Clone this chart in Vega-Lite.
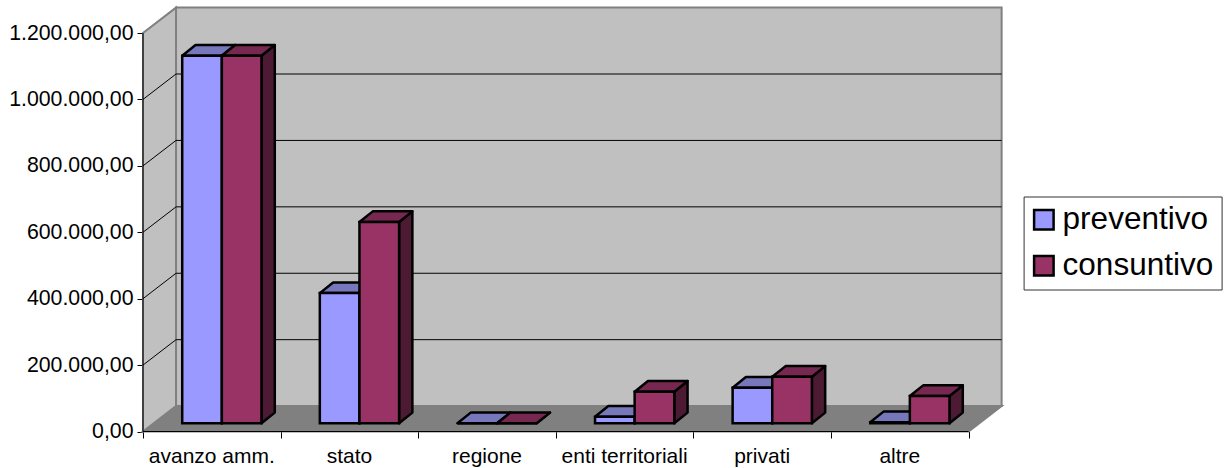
{
"$schema":"https://vega.github.io/schema/vega-lite/v6.json",
"width":859,"height":425.5,
"autosize":{"type":"none"},
"padding":{"left":143,"top":6,"right":223,"bottom":36.5},
"background":"white",
"config":{"view":{"stroke":null},"font":"Liberation Sans","locale":{"number":{"decimal":",","thousands":".","grouping":[3],"currency":["","€"]}}},
"resolve":{"axis":{"x":"independent","y":"independent"}},
"data":{"values":[
{"categoria":"avanzo amm.","serie":"preventivo","valore":1107000},
{"categoria":"avanzo amm.","serie":"consuntivo","valore":1107000},
{"categoria":"stato","serie":"preventivo","valore":392000},
{"categoria":"stato","serie":"consuntivo","valore":606000},
{"categoria":"regione","serie":"preventivo","valore":0},
{"categoria":"regione","serie":"consuntivo","valore":0},
{"categoria":"enti territoriali","serie":"preventivo","valore":20000},
{"categoria":"enti territoriali","serie":"consuntivo","valore":95000},
{"categoria":"privati","serie":"preventivo","valore":107000},
{"categoria":"privati","serie":"consuntivo","valore":140000},
{"categoria":"altre","serie":"preventivo","valore":3000},
{"categoria":"altre","serie":"consuntivo","valore":82000}
]},
"transform":[
{"calculate":"indexof(['avanzo amm.','stato','regione','enti territoriali','privati','altre'],datum.categoria)","as":"i"},
{"calculate":"datum.serie==='preventivo'?0:1","as":"s"},
{"calculate":"datum.i+0.285+datum.s*0.288","as":"xL"},
{"calculate":"datum.xL+0.288","as":"xR"},
{"calculate":"24700","as":"yB"},
{"calculate":"24700+datum.valore","as":"yT"}
],
"layer":[
{"data":{"values":[{"parete":"pavimento"},{"parete":"sinistra"},{"parete":"fondo"}]},
 "transform":[
 {"calculate":"datum.parete==='fondo'?[0.24,6.24]:datum.parete==='sinistra'?[0,0.24]:[0,0.24,6,6.24]","as":"xs"},
 {"calculate":"datum.parete==='fondo'?[76500,76500]:datum.parete==='sinistra'?[0,76500]:[0,0,0,76500]","as":"los"},
 {"calculate":"datum.parete==='fondo'?[1276500,1276500]:datum.parete==='sinistra'?[1200000,1276500]:[0,76500,76500,76500]","as":"his"},
 {"flatten":["xs","los","his"],"as":["px","lo","hi"]}],
 "mark":{"type":"area","stroke":"#808080","strokeWidth":2},
 "encoding":{
 "x":{"field":"px","type":"quantitative","scale":{"domain":[0,6.2427],"nice":false,"zero":false},
   "axis":{"title":null,"values":[0,1,2,3,4,5,6],"labels":false,"domain":false,"grid":false,"tickSize":6.5,"tickColor":"black","tickWidth":1}},
 "y":{"field":"lo","type":"quantitative","scale":{"domain":[0,1281305],"nice":false,"zero":false},
   "axis":{"title":null,"values":[0,200000,400000,600000,800000,1000000,1200000],"format":",.2f","labelFontSize":21.3,"labelColor":"black","labelPadding":4,"domain":false,"grid":false,"tickSize":6,"tickColor":"black","tickWidth":1}},
 "y2":{"field":"hi"},
 "detail":{"field":"parete"},
 "color":{"condition":{"test":"datum.parete==='pavimento'","value":"#808080"},"value":"#C0C0C0"}}},
{"data":{"values":[{"tacca":200000},{"tacca":400000},{"tacca":600000},{"tacca":800000},{"tacca":1000000}]},
 "transform":[
 {"calculate":"[0,0.24,6.24]","as":"xs"},
 {"calculate":"[datum.tacca,datum.tacca+76500,datum.tacca+76500]","as":"ys"},
 {"flatten":["xs","ys"],"as":["px","py"]}],
 "mark":{"type":"line","color":"black","strokeWidth":1},
 "encoding":{"x":{"field":"px","type":"quantitative","axis":null},"y":{"field":"py","type":"quantitative","axis":null},"detail":{"field":"tacca"}}},
{"transform":[
 {"calculate":"[datum.xR,datum.xR+0.0967]","as":"xs"},
 {"calculate":"[datum.yB,datum.yB+32200]","as":"los"},
 {"calculate":"[datum.yT,datum.yT+32200]","as":"his"},
 {"flatten":["xs","los","his"],"as":["px","lo","hi"]}],
 "mark":{"type":"area","stroke":"black","strokeWidth":2.5,"strokeJoin":"round"},
 "encoding":{"x":{"field":"px","type":"quantitative","axis":null},"y":{"field":"lo","type":"quantitative","axis":null},"y2":{"field":"hi"},
 "detail":[{"field":"categoria"},{"field":"serie"}],
 "color":{"condition":{"test":"datum.serie==='preventivo'","value":"#4C4C7F"},"value":"#4C1A33"}}},
{"transform":[
 {"calculate":"[datum.xL,datum.xL+0.0967,datum.xR,datum.xR+0.0967]","as":"xs"},
 {"calculate":"[datum.yT,datum.yT,datum.yT,datum.yT+32200]","as":"los"},
 {"calculate":"[datum.yT,datum.yT+32200,datum.yT+32200,datum.yT+32200]","as":"his"},
 {"flatten":["xs","los","his"],"as":["px","lo","hi"]}],
 "mark":{"type":"area","stroke":"black","strokeWidth":2.5,"strokeJoin":"round"},
 "encoding":{"x":{"field":"px","type":"quantitative","axis":null},"y":{"field":"lo","type":"quantitative","axis":null},"y2":{"field":"hi"},
 "detail":[{"field":"categoria"},{"field":"serie"}],
 "color":{"condition":{"test":"datum.serie==='preventivo'","value":"#7777BB"},"value":"#772850"}}},
{"mark":{"type":"rect","stroke":"black","strokeWidth":2.5},
 "encoding":{"x":{"field":"xL","type":"quantitative","axis":null},"x2":{"field":"xR"},"y":{"field":"yB","type":"quantitative","axis":null},"y2":{"field":"yT"},
 "color":{"field":"serie","type":"nominal","scale":{"domain":["preventivo","consuntivo"],"range":["#9999FF","#993366"]},
  "legend":{"title":null,"orient":"none","legendX":880.6,"legendY":190.5,"fillColor":"white","strokeColor":"#333333","padding":7.5,"symbolType":"square","symbolSize":380,"symbolOffset":-3,"symbolStrokeColor":"black","symbolStrokeWidth":2.5,"labelFontSize":31.5,"labelColor":"black","labelOffset":3,"labelLimit":300,"rowPadding":13}}}},
{"data":{"values":[{"asse":"x"}]},"mark":{"type":"rule","color":"black","strokeWidth":1},
 "encoding":{"x":{"datum":0,"type":"quantitative","axis":null},"x2":{"datum":6},"y":{"datum":0,"type":"quantitative","axis":null}}},
{"data":{"values":[{"asse":"y"}]},"mark":{"type":"rule","color":"black","strokeWidth":1},
 "encoding":{"x":{"datum":0,"type":"quantitative","axis":null},"y":{"datum":0,"type":"quantitative","axis":null},"y2":{"datum":1200000}}},
{"data":{"values":[{"categoria":"avanzo amm."},{"categoria":"stato"},{"categoria":"regione"},{"categoria":"enti territoriali"},{"categoria":"privati"},{"categoria":"altre"}]},
 "transform":[{"calculate":"indexof(['avanzo amm.','stato','regione','enti territoriali','privati','altre'],datum.categoria)+0.5","as":"pos"}],
 "mark":{"type":"text","fontSize":21,"color":"black","dy":25,"align":"center","baseline":"middle"},
 "encoding":{"x":{"field":"pos","type":"quantitative","axis":null},"y":{"datum":0,"type":"quantitative","axis":null},"text":{"field":"categoria"}}}
]
}
